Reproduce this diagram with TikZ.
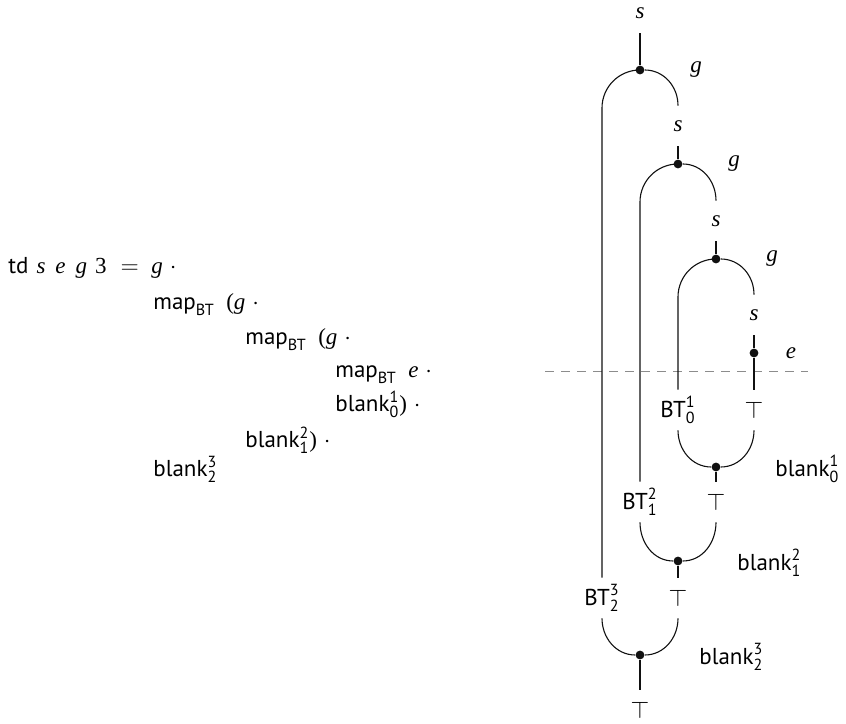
\documentclass[tikz,border=0pt]{standalone}
\usepackage{amsmath}
\usepackage[no-math]{fontspec}
\setmainfont{PT Sans}
\newfontfamily\serf{Liberation Serif}
\usepackage{xcolor}
\usepackage{tikz}
\usetikzlibrary{calc}
\definecolor{tdInk}{HTML}{111111}
\definecolor{tdCut}{HTML}{8C8C8C}
\tikzset{
  % wire of the tree
  wire/.style={line width=0.55pt,color=tdInk},
  % fork / join point
  dot/.style={circle,fill=tdInk,inner sep=0pt,minimum size=4.4pt},
  % label sitting on a wire (s, top, BT)
  wlab/.style={inner sep=0pt,minimum height=20pt,minimum width=8pt},
  % label beside a point (g, e, blank)
  slab/.style={inner sep=0pt},
  % lines of the equation
  eqn/.style={inner sep=0pt,anchor=base west},
  % cut between the two halves
  cut/.style={tdCut,line width=0.5pt,dash pattern=on 4.5pt off 3.5pt},
}
\newcommand{\vv}[1]{{\serf\itshape #1}}
\newcommand{\mapBT}{$\text{map}_{\text{BT}}$}
\newcommand{\blk}[2]{$\text{blank}^{\text{#1}}_{\text{#2}}$}
\newcommand{\btt}[2]{$\text{BT}^{\text{#1}}_{\text{#2}}$}
\newcommand{\dotop}{\hspace{3.5pt}$\cdot$}
\begin{document}
\begin{tikzpicture}[x=0.5pt,y=0.5pt,font=\fontsize{11.5}{14}\selectfont]
  \useasboundingbox (0,0) rectangle (846,723);
  \def\r{38}

  % Equation
  \node[eqn] (ln1) at (8,449)
    {td\hspace{4pt}\vv{s}\hspace{5pt}\vv{e}\hspace{5pt}\vv{g}\hspace{4pt}{\serf 3}\hspace{7pt}$=$};
  \node[eqn] (ln1r) at (151,449) {\vv{g}\dotop};
  \node[eqn] (ln2) at (153,413) {\mapBT\enspace{\serf(}\vv{g}\dotop};
  \node[eqn] (ln3) at (245,378) {\mapBT\enspace{\serf(}\vv{g}\dotop};
  \node[eqn] (ln4) at (335,345) {\mapBT\enspace\vv{e}\dotop};
  \node[eqn] (ln5) at (335,311) {\blk{1}{0}{\serf)}\dotop};
  \node[eqn] (ln6) at (245,275) {\blk{2}{1}{\serf)}\dotop};
  \node[eqn] (ln7) at (153,246) {\blk{3}{2}};

  % Cut line
  \coordinate (cutL) at (545,351);
  \coordinate (cutR) at (808,351);
  \draw[cut] (cutL) -- (cutR);

  % Forks (upper half)
  \node[wlab] (s0) at (640,710) {\vv{s}};
  \node[dot] (fork3) at (640,653) {};
  \node[wlab] (s1) at (678,597) {\vv{s}};
  \node[dot] (fork2) at (678,559) {};
  \node[wlab] (s2) at (716,502) {\vv{s}};
  \node[dot] (fork1) at (716,464) {};
  \node[wlab] (s3) at (754,408) {\vv{s}};
  \node[dot] (edot) at (754,370) {};

  \node[slab] (g3) at ($(fork3)+(56,0)$) {\vv{g}};
  \node[slab] (g2) at ($(fork2)+(56,0)$) {\vv{g}};
  \node[slab] (g1) at ($(fork1)+(56,0)$) {\vv{g}};
  \node[slab] (e) at ($(edot)+(37,0)$) {\vv{e}};

  % Joins (lower half)
  \node[wlab] (bt1) at (678,313) {\btt{1}{0}};
  \node[wlab] (top1) at (754,313) {$\top$};
  \node[dot] (join1) at (716,256) {};
  \node[wlab] (bt2) at (640,221) {\btt{2}{1}};
  \node[wlab] (top2) at (716,221) {$\top$};
  \node[dot] (join2) at (678,162) {};
  \node[wlab] (bt3) at (602,125) {\btt{3}{2}};
  \node[wlab] (top3) at (678,125) {$\top$};
  \node[dot] (join3) at (640,68) {};
  \node[wlab] (top4) at (640,13) {$\top$};

  \node[slab,anchor=west] (b1) at ($(join1)+(59,-2)$) {\blk{1}{0}};
  \node[slab,anchor=west] (b2) at ($(join2)+(59,-2)$) {\blk{2}{1}};
  \node[slab,anchor=west] (b3) at ($(join3)+(59,-2)$) {\blk{3}{2}};

  % Wires
  \draw[wire] (s0) -- (fork3);
  \draw[wire] (fork3.center) arc[start angle=90,end angle=180,radius=\r] -- (bt3);
  \draw[wire] (fork3) to[out=0,in=90] (s1);
  \draw[wire] (s1) -- (fork2);
  \draw[wire] (fork2.center) arc[start angle=90,end angle=180,radius=\r] -- (bt2);
  \draw[wire] (fork2) to[out=0,in=90] (s2);
  \draw[wire] (s2) -- (fork1);
  \draw[wire] (fork1.center) arc[start angle=90,end angle=180,radius=\r] -- (bt1);
  \draw[wire] (fork1) to[out=0,in=90] (s3);
  \draw[wire] (s3) -- (edot);
  \draw[wire] (edot) -- (top1);

  \draw[wire] (bt1) to[out=-90,in=180] (join1);
  \draw[wire] (top1) to[out=-90,in=0] (join1);
  \draw[wire] (join1) -- (top2);
  \draw[wire] (bt2) to[out=-90,in=180] (join2);
  \draw[wire] (top2) to[out=-90,in=0] (join2);
  \draw[wire] (join2) -- (top3);
  \draw[wire] (bt3) to[out=-90,in=180] (join3);
  \draw[wire] (top3) to[out=-90,in=0] (join3);
  \draw[wire] (join3) -- (top4);
\end{tikzpicture}
\end{document}
